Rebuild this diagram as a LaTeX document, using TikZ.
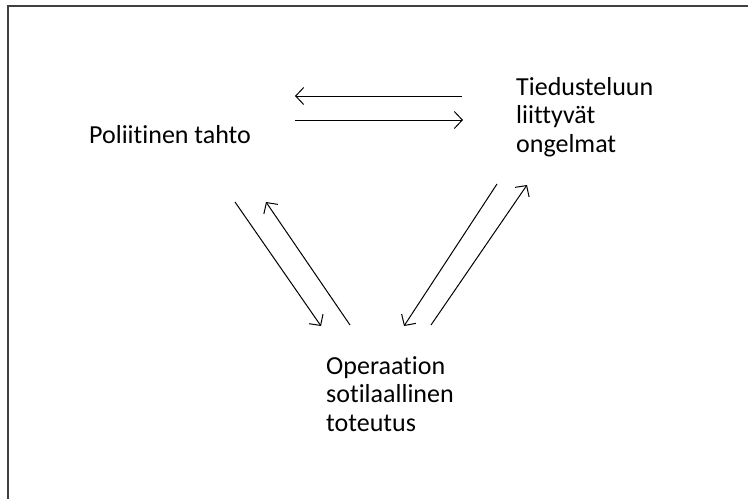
\documentclass[tikz,border=0pt]{standalone}
\usepackage{fontspec}
\setmainfont{Carlito}[Ligatures=NoCommon]
\usetikzlibrary{arrows.meta}

\begin{document}
\begin{tikzpicture}[x=1pt,y=-1pt,
lbl/.style={anchor=base west,inner sep=0pt,align=left,font=\fontsize{26}{28.5}\selectfont},
flow/.style={line width=1pt,-{Straight Barb[length=8pt,width=17pt]}}]
\useasboundingbox (0,0) rectangle (748,499);
\draw[line width=1.6pt,black!75] (748,6) -- (8,6) -- (8,499);
% base = last line of the text
\node[lbl] (tahto) at (89,143) {Poliitinen tahto};
\node[lbl] (tiedustelu) at (516,152) {Tiedusteluun\\liittyvät\\ongelmat};
\node[lbl] (operaatio) at (326,431) {Operaation\\sotilaallinen\\toteutus};
% arrow end points
\coordinate (a1) at (462,96); \coordinate (a2) at (295,96);
\coordinate (b1) at (295,120); \coordinate (b2) at (463,120);
\coordinate (c1) at (235,202); \coordinate (c2) at (321,326);
\coordinate (d1) at (350,325); \coordinate (d2) at (266,202);
\coordinate (e1) at (497,184); \coordinate (e2) at (404,326);
\coordinate (f1) at (431,325); \coordinate (f2) at (527,185);
\draw[flow] (a1) -- (a2); \draw[flow] (b1) -- (b2);
\draw[flow] (c1) -- (c2); \draw[flow] (d1) -- (d2);
\draw[flow] (e1) -- (e2); \draw[flow] (f1) -- (f2);
\end{tikzpicture}
\end{document}
